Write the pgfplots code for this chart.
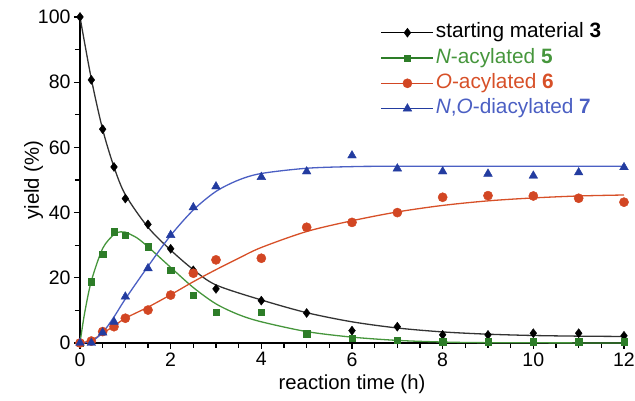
\documentclass[border=0pt]{standalone}
\usepackage{pgfplots}
\pgfplotsset{compat=1.18}
\usepackage{fontspec}
\setmainfont{Liberation Sans}
\definecolor{cblack}{RGB}{0,0,0}
\definecolor{cgreen}{RGB}{70,150,60}
\definecolor{cgreenm}{RGB}{45,125,40}
\definecolor{cred}{RGB}{215,80,40}
\definecolor{credm}{RGB}{210,70,35}
\definecolor{cblue}{RGB}{75,95,195}
\definecolor{cbluem}{RGB}{35,60,160}
\pgfplotsset{
  mylegend/.style={legend image code/.code={
    \draw[##1, mark=none, solid, line width=1.3pt] (0pt,0pt) -- (52pt,0pt);
    \draw[##1, only marks] plot coordinates {(26pt,0pt)};
  }}
}
\begin{document}
\begin{tikzpicture}
\begin{axis}[
  at={(0pt,0pt)}, anchor=south west,
  scale only axis, width=544pt, height=326pt,
  xmin=0, xmax=12, ymin=0, ymax=100,
  axis lines=left, axis line style={line width=1.6pt, -},
  clip=false,
  xtick={0,2,...,12}, ytick={0,20,...,100},
  minor x tick num=3, minor y tick num=1,
  tick align=outside, tick pos=left,
  major tick length=6pt, minor tick length=5pt,
  every tick/.style={line width=1.3pt, black},
  tick label style={font=\fontsize{19.5}{22}\selectfont},
  /pgf/number format/assume math mode=true,
  xlabel={reaction time (h)}, ylabel={yield (\%)},
  label style={font=\fontsize{20.3}{23}\selectfont},
  xlabel style={yshift=-2pt},
  ylabel style={yshift=-12pt},
  legend style={at={(rel axis cs:0.547,0.994)}, anchor=north west, draw=none, fill=none,
    font=\fontsize{20.8}{23}\selectfont, row sep=2.2pt,
    nodes={inner sep=1.8pt, text height=15pt, text depth=4.5pt}},
  legend cell align=left,
]
% starting material 3
\addplot[cblack, only marks, mark=diamond*, mark size=4.5pt, mylegend] coordinates {
(0,100)(0.25,80.7)(0.5,65.6)(0.75,54)(1,44.3)(1.5,36.4)(2,28.9)(2.5,22.3)(3,16.6)(4,13)(5,9.2)(6,3.8)(7,5)(8,2.5)(9,2.5)(10,3)(11,3)(12,2.2)};
\addlegendentry{starting material \textbf{3}}
% N-acylated 5
\addplot[cgreenm, only marks, mark=square*, mark size=3.2pt, mylegend] coordinates {
(0,0)(0.25,18.8)(0.5,27.2)(0.75,34.2)(1,33.1)(1.5,29.6)(2,22.4)(2.5,14.7)(3,9.4)(4,9.4)(5,2.8)(6,1.4)(7,0.9)(8,0.4)(9,0.4)(10,0.4)(11,0.4)(12,0.4)};
\addlegendentry{\textcolor{cgreen}{\textit{N}-acylated \textbf{5}}}
% O-acylated 6
\addplot[credm, only marks, mark=*, mark size=4.6pt, mylegend] coordinates {
(0,0)(0.25,0.6)(0.5,3.5)(0.75,5)(1,7.6)(1.5,10.1)(2,14.7)(2.5,21.4)(3,25.5)(4,26)(5,35.5)(6,37)(7,40)(8,44.7)(9,45.2)(10,45.1)(11,44.4)(12,43.2)};
\addlegendentry{\textcolor{cred}{\textit{O}-acylated \textbf{6}}}
% N,O-diacylated 7
\addplot[cbluem, only marks, mark=triangle*, mark size=5pt, mylegend] coordinates {
(0,0)(0.25,0)(0.5,3.2)(0.75,6.5)(1,14.2)(1.5,22.9)(2,33.1)(2.5,41.6)(3,48)(4,50.9)(5,52.6)(6,57.5)(7,53.5)(8,52.6)(9,51.9)(10,51.3)(11,52.3)(12,53.9)};
\addlegendentry{\textcolor{cblue}{\textit{N},\textit{O}-diacylated \textbf{7}}}
% fitted curves
\addplot[cblack!80!white, line width=1.3pt, smooth, forget plot] coordinates {
(0,100)(0.25,81)(0.5,65.5)(0.75,54)(1,45.5)(1.5,35.5)(2,28.5)(2.5,22.5)(3,17.8)(4,13.2)(5,9.3)(6,6.5)(7,4.6)(8,3.4)(9,2.7)(10,2.3)(11,2.1)(12,2.0)};
\addplot[cgreen, line width=1.3pt, smooth, forget plot] coordinates {
(0,0)(0.1,9)(0.25,19)(0.5,29)(0.75,33.3)(0.9,34.1)(1,34)(1.25,32.3)(1.5,29.5)(2,23.2)(2.5,17)(3,12)(3.5,8.7)(4,6.5)(5,3.5)(6,1.8)(7,0.8)(8,0.3)(9,0.1)(12,0)};
\addplot[cred, line width=1.3pt, smooth, forget plot] coordinates {
(0,0)(0.25,0.8)(0.5,3)(0.75,5.2)(1,7.6)(1.5,11)(2,14.8)(2.5,18.8)(3,22.5)(3.5,26)(4,29.3)(5,34.2)(6,37.5)(7,40.2)(8,42.2)(9,43.6)(10,44.5)(11,45.1)(12,45.4)};
\addplot[cblue, line width=1.3pt, smooth, forget plot] coordinates {
(0,0)(0.25,0.5)(0.5,3.2)(0.75,8)(1,13.5)(1.5,23.5)(2,33)(2.5,40.8)(3,46.5)(3.5,50)(4,52)(5,53.6)(6,54.1)(7,54.2)(12,54.2)};
\end{axis}
\pgfresetboundingbox
\path[use as bounding box] (-80pt,-58pt) rectangle (555pt,343pt);
\end{tikzpicture}
\end{document}
